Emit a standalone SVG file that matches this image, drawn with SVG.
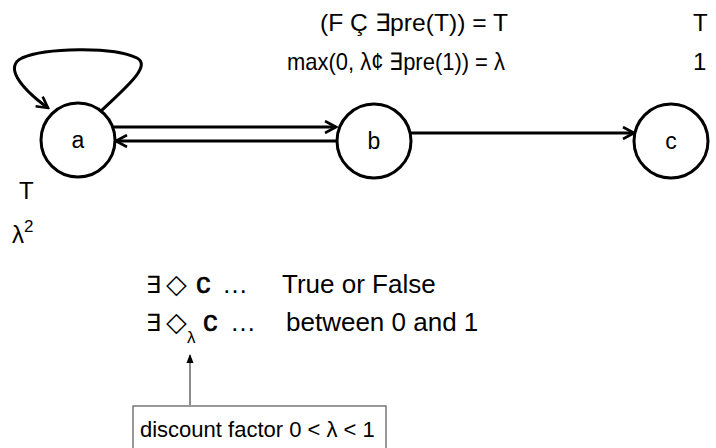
<svg xmlns="http://www.w3.org/2000/svg" width="716" height="448" viewBox="0 0 716 448">
<defs>
<style>
.t{font-family:"Liberation Sans",Arial,sans-serif;fill:#000}
.big{font-size:24px}
.mid{font-size:22px}
.row{font-size:26px}
.node circle{fill:#fff;stroke:#000;stroke-width:3}
.edge{fill:none;stroke:#000;stroke-width:3}
.sym{font-family:"DejaVu Sans","Liberation Sans",sans-serif;fill:#000}
.cc{font-family:"Liberation Sans",Arial,sans-serif;font-size:29px;fill:#000;stroke:#000;stroke-width:0.6}
</style>
<marker id="ah" viewBox="0 0 14 14" refX="12" refY="7" markerWidth="14" markerHeight="14" markerUnits="userSpaceOnUse" orient="auto">
<path d="M1,1 L12,7 L1,13" fill="none" stroke="#000" stroke-width="2.6"/>
</marker>
<marker id="sa" viewBox="0 0 10 10" refX="9" refY="5" markerWidth="9" markerHeight="9" markerUnits="userSpaceOnUse" orient="auto">
<path d="M0,1 L10,5 L0,9 z" fill="#000"/>
</marker>
</defs>
<rect width="716" height="448" fill="#fff"/>
<g id="connectors">
<path class="edge" d="M101,111 C125,88 152,66 137,58 C112,46 45,48 22,58 C5,66 18,86 48,108" marker-end="url(#ah)"/>
<line class="edge" x1="114" y1="127" x2="336" y2="127" marker-end="url(#ah)"/>
<line class="edge" x1="338" y1="141" x2="116" y2="141" marker-end="url(#ah)"/>
<line class="edge" x1="411" y1="133" x2="634" y2="133" marker-end="url(#ah)"/>
<line x1="190" y1="405" x2="190" y2="355" stroke="#666" stroke-width="1.5" marker-end="url(#sa)"/>
</g>
<g id="node-a" class="node"><circle cx="78" cy="140" r="37"/><text class="t" font-size="23" x="78" y="148" text-anchor="middle">a</text></g>
<g id="node-b" class="node"><circle cx="374" cy="141" r="37"/><text class="t" font-size="23" x="374" y="149" text-anchor="middle">b</text></g>
<g id="node-c" class="node"><circle cx="671" cy="141" r="37"/><text class="t" font-size="23" x="671" y="149" text-anchor="middle">c</text></g>
<g id="labels">
<text class="t big" x="320" y="31" textLength="188" lengthAdjust="spacingAndGlyphs">(F Ç ∃pre(T)) = T</text>
<text class="t big" x="693" y="31">T</text>
<text class="t big" x="287" y="70" textLength="218" lengthAdjust="spacingAndGlyphs">max(0, λ¢ ∃pre(1)) = λ</text>
<text class="t big" x="693" y="70">1</text>
<text class="t" font-size="24" x="19" y="199">T</text>
<text class="t" font-size="24" x="12" y="243">λ<tspan font-size="17" dy="-11">2</tspan></text>
</g>
<g id="formulas">
<text class="sym" font-size="24" x="146" y="293">∃</text>
<text class="sym" font-size="27" x="166" y="293">◇</text>
<text class="cc" x="196" y="293">c</text>
<text class="t row" x="222" y="293">…</text>
<text class="t row" x="282" y="293">True or False</text>
<text class="sym" font-size="24" x="146" y="331">∃</text>
<text class="sym" font-size="27" x="166" y="331">◇</text>
<text class="t" font-size="17" x="187" y="343">λ</text>
<text class="cc" x="203" y="331">c</text>
<text class="t row" x="230" y="331">…</text>
<text class="t row" x="286" y="331">between 0 and 1</text>
</g>
<g id="note">
<rect x="133" y="406" width="253" height="50" fill="#fff" stroke="#555" stroke-width="1.2"/>
<text class="t mid" x="140" y="437">discount factor 0 &lt; λ &lt; 1</text>
</g>
</svg>
